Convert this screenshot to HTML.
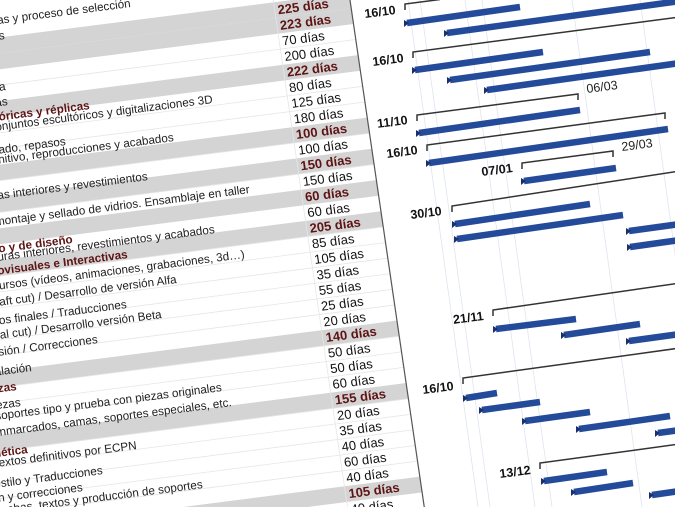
<!DOCTYPE html>
<html><head><meta charset="utf-8"><style>
html,body{margin:0;padding:0;background:#fff;width:675px;height:507px;overflow:hidden;}
svg{display:block;font-family:"Liberation Sans",Arial,sans-serif;}
</style></head><body>
<svg width="675" height="507" viewBox="0 0 675 507" xmlns="http://www.w3.org/2000/svg">
<rect width="675" height="507" fill="#fff"/>
<g transform="matrix(0.992,-0.127,0.145,0.99,350,0)">
  <g fill="#d4d4d4">
    <rect x="-500" y="-7.4" width="500" height="15.8"/>
    <rect x="-500" y="8.4" width="500" height="15.8"/>
    <rect x="-500" y="55.7" width="500" height="15.8"/>
    <rect x="-500" y="118.8" width="500" height="15.8"/>
    <rect x="-500" y="150.3" width="500" height="15.8"/>
    <rect x="-500" y="181.9" width="500" height="15.8"/>
    <rect x="-500" y="213.4" width="500" height="15.8"/>
    <rect x="-500" y="323.8" width="500" height="15.8"/>
    <rect x="-500" y="386.9" width="500" height="15.8"/>
    <rect x="-500" y="481.5" width="500" height="15.8"/>
  </g>
  <g stroke="#e6e6e6" stroke-width="0.8">
    <line x1="-500" y1="39.9" x2="0" y2="39.9"/><line x1="-500" y1="87.2" x2="0" y2="87.2"/>
    <line x1="-500" y1="103" x2="0" y2="103"/><line x1="-500" y1="134.6" x2="0" y2="134.6"/>
    <line x1="-500" y1="166.1" x2="0" y2="166.1"/><line x1="-500" y1="229.2" x2="0" y2="229.2"/>
    <line x1="-500" y1="245" x2="0" y2="245"/><line x1="-500" y1="260.8" x2="0" y2="260.8"/>
    <line x1="-500" y1="276.5" x2="0" y2="276.5"/><line x1="-500" y1="292.3" x2="0" y2="292.3"/>
    <line x1="-500" y1="308" x2="0" y2="308"/><line x1="-500" y1="339.6" x2="0" y2="339.6"/>
    <line x1="-500" y1="355.4" x2="0" y2="355.4"/><line x1="-500" y1="371.1" x2="0" y2="371.1"/>
    <line x1="-500" y1="402.7" x2="0" y2="402.7"/><line x1="-500" y1="418.5" x2="0" y2="418.5"/>
    <line x1="-500" y1="434.2" x2="0" y2="434.2"/><line x1="-500" y1="450" x2="0" y2="450"/>
    <line x1="-500" y1="465.8" x2="0" y2="465.8"/>
    <line x1="-76" y1="-20" x2="-76" y2="515"/>
  </g>
  <line x1="0" y1="-20" x2="0" y2="515" stroke="#555" stroke-width="1.2"/>
  <g font-size="13" fill="#111">
    <text x="-73" y="5" font-weight="bold" fill="#5e1414">225 días</text>
    <text x="-73" y="20.8" font-weight="bold" fill="#5e1414">223 días</text>
    <text x="-73" y="36.5">70 días</text>
    <text x="-73" y="52.3">200 días</text>
    <text x="-73" y="68.1" font-weight="bold" fill="#5e1414">222 días</text>
    <text x="-73" y="83.8">80 días</text>
    <text x="-73" y="99.6">125 días</text>
    <text x="-73" y="115.4">180 días</text>
    <text x="-73" y="131.1" font-weight="bold" fill="#5e1414">100 días</text>
    <text x="-73" y="146.9">100 días</text>
    <text x="-73" y="162.7" font-weight="bold" fill="#5e1414">150 días</text>
    <text x="-73" y="178.5">150 días</text>
    <text x="-73" y="194.2" font-weight="bold" fill="#5e1414">60 días</text>
    <text x="-73" y="210">60 días</text>
    <text x="-73" y="225.8" font-weight="bold" fill="#5e1414">205 días</text>
    <text x="-73" y="241.5">85 días</text>
    <text x="-73" y="257.3">105 días</text>
    <text x="-73" y="273.1">35 días</text>
    <text x="-73" y="288.8">55 días</text>
    <text x="-73" y="304.6">25 días</text>
    <text x="-73" y="320.4">20 días</text>
    <text x="-73" y="336.1" font-weight="bold" fill="#5e1414">140 días</text>
    <text x="-73" y="351.9">50 días</text>
    <text x="-73" y="367.7">50 días</text>
    <text x="-73" y="383.4">60 días</text>
    <text x="-73" y="399.2" font-weight="bold" fill="#5e1414">155 días</text>
    <text x="-73" y="415">20 días</text>
    <text x="-73" y="430.7">35 días</text>
    <text x="-73" y="446.5">40 días</text>
    <text x="-73" y="462.3">60 días</text>
    <text x="-73" y="478">40 días</text>
    <text x="-73" y="493.8" font-weight="bold" fill="#5e1414">105 días</text>
    <text x="-73" y="509.6">40 días</text>
  </g>
</g>
<g font-size="11.7" fill="#222" text-anchor="end">
  <text x="131" y="7" transform="rotate(-7.3 131 7)">Convocatorias y proceso de selección</text>
  <text x="5" y="39" transform="rotate(-7.3 5 39)">Estudios previos</text>
  <text x="6" y="90" transform="rotate(-7.3 6 90)">Documentación histórica</text>
  <text x="8" y="105" transform="rotate(-7.3 8 105)">Fichas técnicas</text>
  <text x="90" y="109" font-weight="bold" fill="#5e1414" transform="rotate(-7.3 90 109)">Piezas escultóricas y réplicas</text>
  <text x="213" y="103" transform="rotate(-7.3 213 103)">Modelado de conjuntos escultóricos y digitalizaciones 3D</text>
  <text x="66" y="145" transform="rotate(-7.3 66 145)">Vaciado, repasos</text>
  <text x="174" y="141" transform="rotate(-7.3 174 141)">Montaje definitivo, reproducciones y acabados</text>
  <text x="148" y="180" transform="rotate(-7.3 148 180)">Estructuras interiores y revestimientos</text>
  <text x="250" y="193" transform="rotate(-7.3 250 193)">Fabricación, montaje y sellado de vidrios. Ensamblaje en taller</text>
  <text x="73" y="243" font-weight="bold" fill="#5e1414" transform="rotate(-7.3 73 243)">Mobiliario y de diseño</text>
  <text x="215" y="233" transform="rotate(-7.3 215 233)">Estructuras interiores, revestimientos y acabados</text>
  <text x="128" y="258" font-weight="bold" fill="#5e1414" transform="rotate(-7.3 128 258)">Producciones Audiovisuales e Interactivas</text>
  <text x="245" y="258" transform="rotate(-7.3 245 258)">Producción de recursos (vídeos, animaciones, grabaciones, 3d…)</text>
  <text x="177" y="283" transform="rotate(-7.3 177 283)">Montaje (draft cut) / Desarrollo de versión Alfa</text>
  <text x="127" y="308" transform="rotate(-7.3 127 308)">Textos finales / Traducciones</text>
  <text x="162" y="318" transform="rotate(-7.3 162 318)">Montaje (final cut) / Desarrollo versión Beta</text>
  <text x="98" y="343" transform="rotate(-7.3 98 343)">Revisión / Correcciones</text>
  <text x="32" y="371" transform="rotate(-7.3 32 371)">Instalación</text>
  <text x="17" y="390" font-weight="bold" fill="#5e1414" transform="rotate(-7.3 17 390)">Piezas</text>
  <text x="21" y="406" transform="rotate(-7.3 21 406)">Piezas</text>
  <text x="222" y="391" transform="rotate(-7.3 222 391)">Diseño de soportes tipo y prueba con piezas originales</text>
  <text x="232" y="406" transform="rotate(-7.3 232 406)">Enmarcados, camas, soportes especiales, etc.</text>
  <text x="28" y="453" font-weight="bold" fill="#5e1414" transform="rotate(-7.3 28 453)">Señalética</text>
  <text x="137" y="449" transform="rotate(-7.3 137 449)">Redacción textos definitivos por ECPN</text>
  <text x="103" y="474" transform="rotate(-7.3 103 474)">Corrección de estilo y Traducciones</text>
  <text x="83" y="491" transform="rotate(-7.3 83 491)">Maquetación y correcciones</text>
  <text x="203" y="488" transform="rotate(-7.3 203 488)">Pruebas, textos y producción de soportes</text>
</g>
<g stroke="#dfe4ef" stroke-width="0.8">
  <line x1="408" y1="0" x2="478" y2="507"/>
  <line x1="420" y1="0" x2="490" y2="507"/>
  <line x1="465" y1="0" x2="535" y2="507"/>
  <line x1="482" y1="0" x2="552" y2="507"/>
  <line x1="572" y1="0" x2="642" y2="507"/>
  <line x1="640" y1="0" x2="710" y2="507"/>
</g>
<g stroke="#333" stroke-width="1.5" fill="none">
  <polyline points="405,10 405,4 440,-0.5"/>
  <polyline points="413,58 413,52 680,17"/>
  <polyline points="417,121 417,115 578,94 578,100"/>
  <polyline points="427,151 427,145 665,113 665,119"/>
  <polyline points="522,169 522,163 613,151 613,157"/>
  <polyline points="452,212 452,206 680,171"/>
  <polyline points="493,316 493,310 680,283"/>
  <polyline points="463,384 463,378 680,348"/>
  <polyline points="540,469 540,463 680,444"/>
</g>
<g stroke="#244a9a" stroke-width="6.5">
  <line x1="407" y1="23" x2="520" y2="7"/>
  <line x1="447" y1="33" x2="680" y2="1"/>
  <line x1="415" y1="70" x2="543" y2="52"/>
  <line x1="450" y1="80" x2="650" y2="52"/>
  <line x1="487" y1="90" x2="680" y2="63"/>
  <line x1="419" y1="133" x2="580" y2="110"/>
  <line x1="429" y1="163" x2="668" y2="129"/>
  <line x1="524" y1="181" x2="616" y2="168"/>
  <line x1="455" y1="224" x2="590" y2="204"/>
  <line x1="457" y1="239" x2="623" y2="215"/>
  <line x1="629" y1="231" x2="680" y2="224"/>
  <line x1="630" y1="247" x2="680" y2="240"/>
  <line x1="496" y1="329" x2="576" y2="319"/>
  <line x1="564" y1="335" x2="640" y2="324"/>
  <line x1="629" y1="341" x2="680" y2="334"/>
  <line x1="466" y1="398" x2="497" y2="393"/>
  <line x1="482" y1="410" x2="540" y2="402"/>
  <line x1="525" y1="421" x2="590" y2="412"/>
  <line x1="579" y1="429" x2="670" y2="416"/>
  <line x1="658" y1="433" x2="680" y2="430"/>
  <line x1="544" y1="481" x2="607" y2="472"/>
  <line x1="574" y1="492" x2="633" y2="483"/>
  <line x1="652" y1="495" x2="680" y2="491"/>
</g>
<g fill="#1a2f6e">
  <polygon points="404,20 409,23 404,27"/><polygon points="444,30 449,33 444,37"/>
  <polygon points="412,67 417,70 412,74"/><polygon points="447,77 452,80 447,84"/>
  <polygon points="484,87 489,90 484,94"/><polygon points="416,130 421,133 416,137"/>
  <polygon points="426,160 431,163 426,167"/><polygon points="521,178 526,181 521,185"/>
  <polygon points="452,221 457,224 452,228"/><polygon points="454,236 459,239 454,243"/>
  <polygon points="626,228 631,231 626,235"/><polygon points="627,244 632,247 627,251"/>
  <polygon points="493,326 498,329 493,333"/><polygon points="561,332 566,335 561,339"/>
  <polygon points="626,338 631,341 626,345"/><polygon points="463,395 468,398 463,402"/>
  <polygon points="479,407 484,410 479,414"/><polygon points="522,418 527,421 522,425"/>
  <polygon points="576,426 581,429 576,433"/><polygon points="655,430 660,433 655,437"/>
  <polygon points="541,478 546,481 541,485"/><polygon points="571,489 576,492 571,496"/>
  <polygon points="649,492 654,495 649,499"/>
</g>
<g font-size="12.5" font-weight="bold" fill="#111" text-anchor="end">
  <text x="396" y="14" transform="rotate(-7.3 396 14)">16/10</text>
  <text x="404" y="62" transform="rotate(-7.3 404 62)">16/10</text>
  <text x="408" y="124" transform="rotate(-7.3 408 124)">11/10</text>
  <text x="418" y="154" transform="rotate(-7.3 418 154)">16/10</text>
  <text x="513" y="172" transform="rotate(-7.3 513 172)">07/01</text>
  <text x="442" y="215" transform="rotate(-7.3 442 215)">30/10</text>
  <text x="484" y="320" transform="rotate(-7.3 484 320)">21/11</text>
  <text x="454" y="390" transform="rotate(-7.3 454 390)">16/10</text>
  <text x="531" y="474" transform="rotate(-7.3 531 474)">13/12</text>
</g>
<g font-size="12.5" fill="#222">
  <text x="587" y="93" transform="rotate(-7.3 587 93)">06/03</text>
  <text x="622" y="151" transform="rotate(-7.3 622 151)">29/03</text>
</g>
</svg>
</body></html>
